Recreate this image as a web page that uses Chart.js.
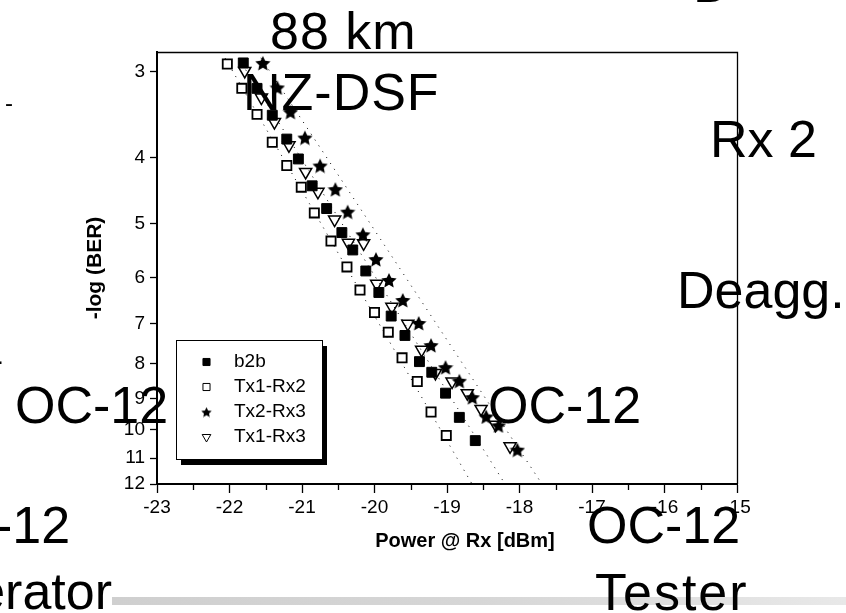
<!DOCTYPE html>
<html>
<head>
<meta charset="utf-8">
<script src="https://cdn.jsdelivr.net/npm/chart.js@4.4.0/dist/chart.umd.min.js"></script>
<style>
  html, body { margin: 0; padding: 0; background: #fff; }
  #wrap { position: relative; width: 846px; height: 613px; overflow: hidden; }
  #c { position: absolute; left: 0; top: 0; }
  .t { position: absolute; font-family: "Liberation Sans", Arial, sans-serif; font-size: 52px;
       line-height: 52px; color: #000; white-space: nowrap; }
  .small { font-size: 24px; line-height: 24px; }
  #bar { position: absolute; left: 112px; top: 597px; width: 734px; height: 8px;
         background: linear-gradient(to right, #cfcfcf, #d6d6d6 50%, #e8e8e8); }
</style>
</head>
<body>
<div id="wrap">
  <canvas id="c" width="846" height="613"></canvas>
  <div id="bar"></div>
  <div class="t" style="left:270px; top:5px; letter-spacing:1px;">88 km</div>
  <div class="t" style="left:243px; top:66px; letter-spacing:1px;">NZ-DSF</div>
  <div class="t" style="left:710px; top:113px;">Rx 2</div>
  <div class="t" style="left:677px; top:264px;">Deagg.</div>
  <div class="t" style="left:15px; top:379px;">OC-12</div>
  <div class="t" style="left:488px; top:379px;">OC-12</div>
  <div class="t" style="left:-83px; top:499px;">OC-12</div>
  <div class="t" style="left:587px; top:499px;">OC-12</div>
  <div class="t" style="right:734px; top:565px;">Generator</div>
  <div class="t" style="left:595px; top:566px; letter-spacing:2px;">Tester</div>
  <div class="t" style="left:693px; top:-42px;">D</div>
  <div class="t small" style="left:5px; top:91px;">-</div>
  <div class="t small" style="left:-3px; top:344px;">.</div>
</div>
<script>
// Received power [dBm] and -log(BER) for each measured link
const powerB2b = [-21.81, -21.62, -21.41, -21.21, -21.05, -20.86, -20.66, -20.45, -20.30, -20.12,
                  -19.94, -19.77, -19.58, -19.38, -19.21, -19.02, -18.83, -18.61];
const berB2b   = [2.91, 3.17, 3.47, 3.76, 4.02, 4.40, 4.75, 5.15, 5.46, 5.86,
                  6.30, 6.82, 7.28, 7.95, 8.24, 8.84, 9.59, 10.37];

const powerTx1Rx2 = [-22.03, -21.83, -21.62, -21.41, -21.21, -21.01, -20.83, -20.60, -20.38, -20.20,
                     -20.00, -19.81, -19.62, -19.41, -19.22, -19.01];
const berTx1Rx2   = [2.92, 3.17, 3.46, 3.80, 4.11, 4.42, 4.82, 5.30, 5.78, 6.25,
                     6.74, 7.20, 7.85, 8.50, 9.42, 10.19];

const powerTx2Rx3 = [-21.54, -21.34, -21.16, -20.96, -20.75, -20.54, -20.37, -20.16, -19.98, -19.80,
                     -19.61, -19.39, -19.22, -19.02, -18.83, -18.65, -18.46, -18.29, -18.03];
const berTx2Rx3   = [2.91, 3.16, 3.43, 3.74, 4.11, 4.45, 4.80, 5.18, 5.63, 6.04,
                     6.46, 6.98, 7.52, 8.10, 8.48, 8.96, 9.56, 9.85, 10.69];

const powerTx1Rx3 = [-21.79, -21.56, -21.38, -21.18, -20.95, -20.78, -20.55, -20.36, -20.15, -19.97,
                     -19.76, -19.54, -19.35, -19.16, -18.93, -18.72, -18.53, -18.33, -18.13];
const berTx1Rx3   = [2.99, 3.27, 3.55, 3.84, 4.20, 4.49, 4.93, 5.33, 5.34, 6.12,
                     6.61, 7.00, 7.64, 8.26, 8.50, 8.84, 9.32, 9.83, 10.57];

// Linear fits (end points at the top and bottom of the BER range)
const fitEndsBer   = [2.805, 12];
const fitTx1Rx2    = [-22.11, -18.655];
const fitB2b       = [-21.93, -18.20];
const fitTx2Rx3    = [-21.62, -17.69];

// Axis ticks and titles
const powerTicks = [-23, -22, -21, -20, -19, -18, -17, -16, -15];
const berTicks   = [3, 4, 5, 6, 7, 8, 9, 10, 11, 12];
const powerTitle = 'Power @ Rx [dBm]';
const berTitle   = '-log (BER)';

const FONT = '"Liberation Sans", Arial, sans-serif';

function pts(xs, ys) { return xs.map((x, i) => ({ x: x, y: ys[i] })); }

// filled five-pointed star marker
function makeStar(size) {
  const c = document.createElement('canvas');
  c.width = c.height = size;
  const g = c.getContext('2d');
  const cx = size / 2, cy = size / 2 + size * 0.06;
  const R = size / 2, r = R * 0.48;
  g.beginPath();
  for (let i = 0; i < 10; i++) {
    const a = -Math.PI / 2 + i * Math.PI / 5;
    const rr = i % 2 ? r : R;
    g.lineTo(cx + rr * Math.cos(a), cy + rr * Math.sin(a));
  }
  g.closePath();
  g.fillStyle = '#000';
  g.fill();
  return c;
}
const starBig = makeStar(16);
const starSmall = makeStar(11);

function fitLine(xs) {
  return {
    type: 'line', label: '', data: pts(xs, fitEndsBer), isFit: true,
    borderColor: '#000', borderWidth: 1, borderDash: [1, 6], pointRadius: 0,
    fill: false, showLine: true, order: 10
  };
}

function drawShape(ctx, style, rot, r, x, y) {
  if (style === 'rect') {
    const s = r * Math.SQRT1_2;
    ctx.rect(x - s, y - s, 2 * s, 2 * s);
  } else if (style === 'triangle') {
    for (let k = 0; k < 3; k++) {
      const a = (rot * Math.PI / 180) - Math.PI / 2 + k * 2 * Math.PI / 3;
      const px = x + r * Math.cos(a), py = y + r * Math.sin(a);
      if (k === 0) ctx.moveTo(px, py); else ctx.lineTo(px, py);
    }
    ctx.closePath();
  }
}

// legend box with drop shadow, inside the plot
const boxLegend = {
  id: 'boxLegend',
  afterDatasetsDraw(chart) {
    const ctx = chart.ctx;
    const bx = 176, by = 340, bw = 146, bh = 119;
    ctx.save();
    ctx.fillStyle = '#000';
    ctx.fillRect(bx + 5, by + 6, bw, bh);
    ctx.fillStyle = '#fff';
    ctx.fillRect(bx, by, bw, bh);
    ctx.strokeStyle = '#000';
    ctx.lineWidth = 1;
    ctx.strokeRect(bx + 0.5, by + 0.5, bw, bh);
    const items = chart.data.datasets.filter(d => !d.isFit);
    items.forEach((d, i) => {
      const y = by + 22 + i * 25;
      const mx = 206.5;
      if (d.pointStyle instanceof HTMLCanvasElement) {
        ctx.drawImage(starSmall, mx - 5.5, y - 5.5);
      } else {
        ctx.strokeStyle = '#000';
        ctx.lineWidth = 1;
        ctx.beginPath();
        drawShape(ctx, d.pointStyle, d.pointRotation || 0, d.legendRadius, mx, y);
        ctx.fillStyle = d.legendFill;
        ctx.fill();
        ctx.stroke();
      }
      ctx.fillStyle = '#000';
      ctx.font = '19px ' + FONT;
      ctx.textBaseline = 'middle';
      ctx.textAlign = 'left';
      ctx.fillText(d.label, 234, y);
    });
    ctx.restore();
  }
};

// closed frame on top/right, minor ticks and the power-axis title
const frame = {
  id: 'frame',
  afterDraw(chart) {
    const { ctx, chartArea: a } = chart;
    const xs = chart.scales.x;
    ctx.save();
    ctx.strokeStyle = '#000';
    ctx.lineWidth = 1.3;
    ctx.beginPath();
    ctx.moveTo(a.left, a.top + 0.5);
    ctx.lineTo(a.right + 0.5, a.top + 0.5);
    ctx.lineTo(a.right + 0.5, a.bottom);
    ctx.stroke();
    ctx.beginPath();
    for (let i = 0; i < powerTicks.length - 1; i++) {
      const px = Math.round(xs.getPixelForValue(powerTicks[i] + 0.5)) + 0.5;
      ctx.moveTo(px, a.bottom);
      ctx.lineTo(px, a.bottom + 6);
    }
    ctx.stroke();
    ctx.fillStyle = '#000';
    ctx.font = 'bold 20px ' + FONT;
    ctx.textAlign = 'center';
    ctx.textBaseline = 'middle';
    ctx.fillText(powerTitle, 465, 541);
    ctx.restore();
  }
};

new Chart(document.getElementById('c'), {
  type: 'scatter',
  data: {
    datasets: [
      { label: 'b2b', data: pts(powerB2b, berB2b), pointStyle: 'rect', pointRadius: 7,
        backgroundColor: '#000', borderColor: '#000', borderWidth: 1, legendRadius: 5, legendFill: '#000' },
      { label: 'Tx1-Rx2', data: pts(powerTx1Rx2, berTx1Rx2), pointStyle: 'rect', pointRadius: 6.5,
        backgroundColor: '#fff', borderColor: '#000', borderWidth: 1.8, legendRadius: 5, legendFill: '#fff' },
      { label: 'Tx2-Rx3', data: pts(powerTx2Rx3, berTx2Rx3), pointStyle: starBig, pointRadius: 8,
        backgroundColor: '#000', borderColor: '#000' },
      { label: 'Tx1-Rx3', data: pts(powerTx1Rx3, berTx1Rx3), pointStyle: 'triangle',
        pointRotation: 180, pointRadius: 7, backgroundColor: 'rgba(255,255,255,0)',
        borderColor: '#000', borderWidth: 1.5, legendRadius: 5, legendFill: '#fff' },
      fitLine(fitTx1Rx2),
      fitLine(fitB2b),
      fitLine(fitTx2Rx3)
    ]
  },
  options: {
    responsive: false,
    animation: false,
    devicePixelRatio: 1,
    layout: { padding: { top: 52, right: 109, left: 0, bottom: 0 } },
    plugins: { legend: { display: false }, tooltip: { enabled: false } },
    scales: {
      x: {
        type: 'linear', min: -23, max: -15,
        afterFit(s) { s.height = 129; },
        afterBuildTicks(s) { s.ticks = powerTicks.map(v => ({ value: v })); },
        ticks: { color: '#000', font: { family: FONT, size: 19 }, padding: 3,
                 callback: v => String(v), maxRotation: 0, autoSkip: false },
        grid: { display: true, drawOnChartArea: false, drawTicks: true, tickLength: 9,
                tickColor: '#000', tickWidth: 1.3 },
        border: { display: true, color: '#000', width: 2 },
        title: { display: false }
      },
      y: {
        type: 'logarithmic', min: 2.805, max: 12, reverse: true,
        afterFit(s) { s.width = 157; },
        afterBuildTicks(s) { s.ticks = berTicks.map(v => ({ value: v })); },
        ticks: { color: '#000', font: { family: FONT, size: 19 }, padding: 5,
                 callback: v => String(v), autoSkip: false },
        grid: { display: true, drawOnChartArea: false, drawTicks: true, tickLength: 7,
                tickColor: '#000', tickWidth: 1.3 },
        border: { display: true, color: '#000', width: 2 },
        title: { display: true, text: berTitle, color: '#000',
                 font: { family: FONT, size: 21, weight: 'bold' }, padding: { top: 83, bottom: 0 } }
      }
    }
  },
  plugins: [boxLegend, frame]
});
</script>
</body>
</html>
